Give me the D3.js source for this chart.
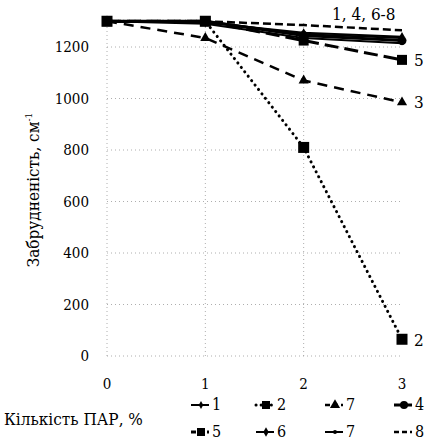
<!DOCTYPE html>
<html>
<head>
<meta charset="utf-8">
<script src="https://cdn.jsdelivr.net/npm/d3@7"></script>
<style>
  body { margin: 0; background: #fff; }
</style>
</head>
<body>
<script>
"use strict";
var xValues = [0, 1, 2, 3];
var yTicks = [0, 200, 400, 600, 800, 1000, 1200];
var legendNames = ["1", "2", "7", "4", "5", "6", "7", "8"];
var s1 = [1300, 1300, 1250, 1235];
var s2 = [1300, 1300, 810, 65];
var s3 = [1300, 1235, 1070, 985];
var s4 = [1300, 1300, 1245, 1225];
var s5 = [1300, 1300, 1225, 1150];
var s6 = [1300, 1295, 1255, 1240];
var s7 = [1300, 1290, 1235, 1215];
var s8 = [1300, 1300, 1285, 1265];
var values = [s1, s2, s3, s4, s5, s6, s7, s8];

var width = 435, height = 446;
var font = "'DejaVu Serif Condensed', 'DejaVu Serif', serif";

// line style for each series
var styles = [
  {dash: null, sw: 2, marker: "diamond", ms: 5},
  {dash: "0.1,5.5", sw: 3, cap: "round", marker: "square", ms: 11},
  {dash: "10,7", sw: 2.5, marker: "triangle", ms: 8},
  {dash: null, sw: 3, marker: "circle", ms: 9},
  {dash: "14,6", sw: 3, marker: "square", ms: 10},
  {dash: null, sw: 2, marker: "diamond", ms: 6},
  {dash: null, sw: 2, marker: "smallcircle", ms: 4},
  {dash: "8,4", sw: 2.5, marker: null, ms: 0}
];

var svg = d3.select("body").append("svg")
  .attr("width", width)
  .attr("height", height)
  .style("font-family", font);

var x = d3.scaleLinear().domain([0, 3]).range([107, 402]);
var y = d3.scaleLinear().domain([0, 1200]).range([356, 47]);

// grid
var grid = svg.append("g").attr("stroke", "#999").attr("stroke-width", 0.8)
  .attr("stroke-dasharray", "1,3");
grid.selectAll("line.h").data(yTicks).enter().append("line")
  .attr("x1", x(0)).attr("x2", x(3))
  .attr("y1", function(d) { return y(d); })
  .attr("y2", function(d) { return y(d); });
grid.selectAll("line.v").data([0, 1, 2]).enter().append("line")
  .attr("x1", function(d) { return x(d); })
  .attr("x2", function(d) { return x(d); })
  .attr("y1", y(0)).attr("y2", y(1300));

// tick labels
svg.selectAll("text.yt").data(yTicks).enter().append("text")
  .attr("x", 89).attr("y", function(d) { return y(d) + 5; })
  .attr("text-anchor", "end").attr("font-size", 15)
  .text(function(d) { return d; });
svg.selectAll("text.xt").data(xValues).enter().append("text")
  .attr("x", function(d) { return x(d); }).attr("y", 389)
  .attr("text-anchor", "middle").attr("font-size", 15)
  .text(function(d) { return d; });

svg.append("text")
  .attr("transform", "translate(39,190) rotate(-90)")
  .attr("text-anchor", "middle").attr("font-size", 17)
  .text("Забрудненість, см").append("tspan")
  .attr("dy", -7).attr("font-size", 10).text("-1");

function drawMarker(g, type, size, cx, cy) {
  if (!type) return;
  if (type === "square") {
    g.append("rect").attr("x", cx - size / 2).attr("y", cy - size / 2)
      .attr("width", size).attr("height", size).attr("fill", "#000");
  } else if (type === "circle" || type === "smallcircle") {
    g.append("circle").attr("cx", cx).attr("cy", cy).attr("r", size / 2).attr("fill", "#000");
  } else {
    var sym = type === "diamond" ? d3.symbolDiamond : d3.symbolTriangle;
    g.append("path").attr("d", d3.symbol().type(sym).size(size * size * 0.7)())
      .attr("transform", "translate(" + cx + "," + cy + ")").attr("fill", "#000");
  }
}

var line = d3.line()
  .x(function(d, i) { return x(xValues[i]); })
  .y(function(d) { return y(d); });

// draw series, order so the cluster looks right
var order = [1, 2, 4, 7, 6, 0, 3, 5];
order.forEach(function(k) {
  var st = styles[k];
  var g = svg.append("g");
  g.append("path").datum(values[k])
    .attr("d", line)
    .attr("fill", "none").attr("stroke", "#000")
    .attr("stroke-width", st.sw)
    .attr("stroke-linecap", st.cap || "butt")
    .attr("stroke-dasharray", st.dash);
  values[k].forEach(function(v, i) {
    drawMarker(g, st.marker, st.ms, x(xValues[i]), y(v));
  });
});

// series annotations
svg.append("text").attr("x", 332).attr("y", 20).attr("font-size", 17).text("1, 4, 6-8");
svg.append("text").attr("x", 414).attr("y", 66).attr("font-size", 17).text("5");
svg.append("text").attr("x", 414).attr("y", 108).attr("font-size", 17).text("3");
svg.append("text").attr("x", 414).attr("y", 346).attr("font-size", 17).text("2");

// legend
svg.append("text").attr("x", 4).attr("y", 425).attr("font-size", 17).text("Кількість ПАР, %");
var legX = [191, 256, 325, 394];
var legY = [405, 432];
legendNames.forEach(function(name, i) {
  var k = i;
  var st = styles[k];
  var lx = legX[i % 4], ly = legY[Math.floor(i / 4)];
  var g = svg.append("g");
  g.append("line").attr("x1", lx).attr("x2", lx + 18).attr("y1", ly).attr("y2", ly)
    .attr("stroke", "#000").attr("stroke-width", st.sw)
    .attr("stroke-linecap", st.cap || "butt")
    .attr("stroke-dasharray", st.dash ? (k === 1 ? "0.1,5" : "5,3") : null);
  drawMarker(g, st.marker, Math.min(st.ms, 8), lx + 10, ly);
  g.append("text").attr("x", lx + 21).attr("y", ly + 5).attr("font-size", 16).text(name);
});
</script>
</body>
</html>
